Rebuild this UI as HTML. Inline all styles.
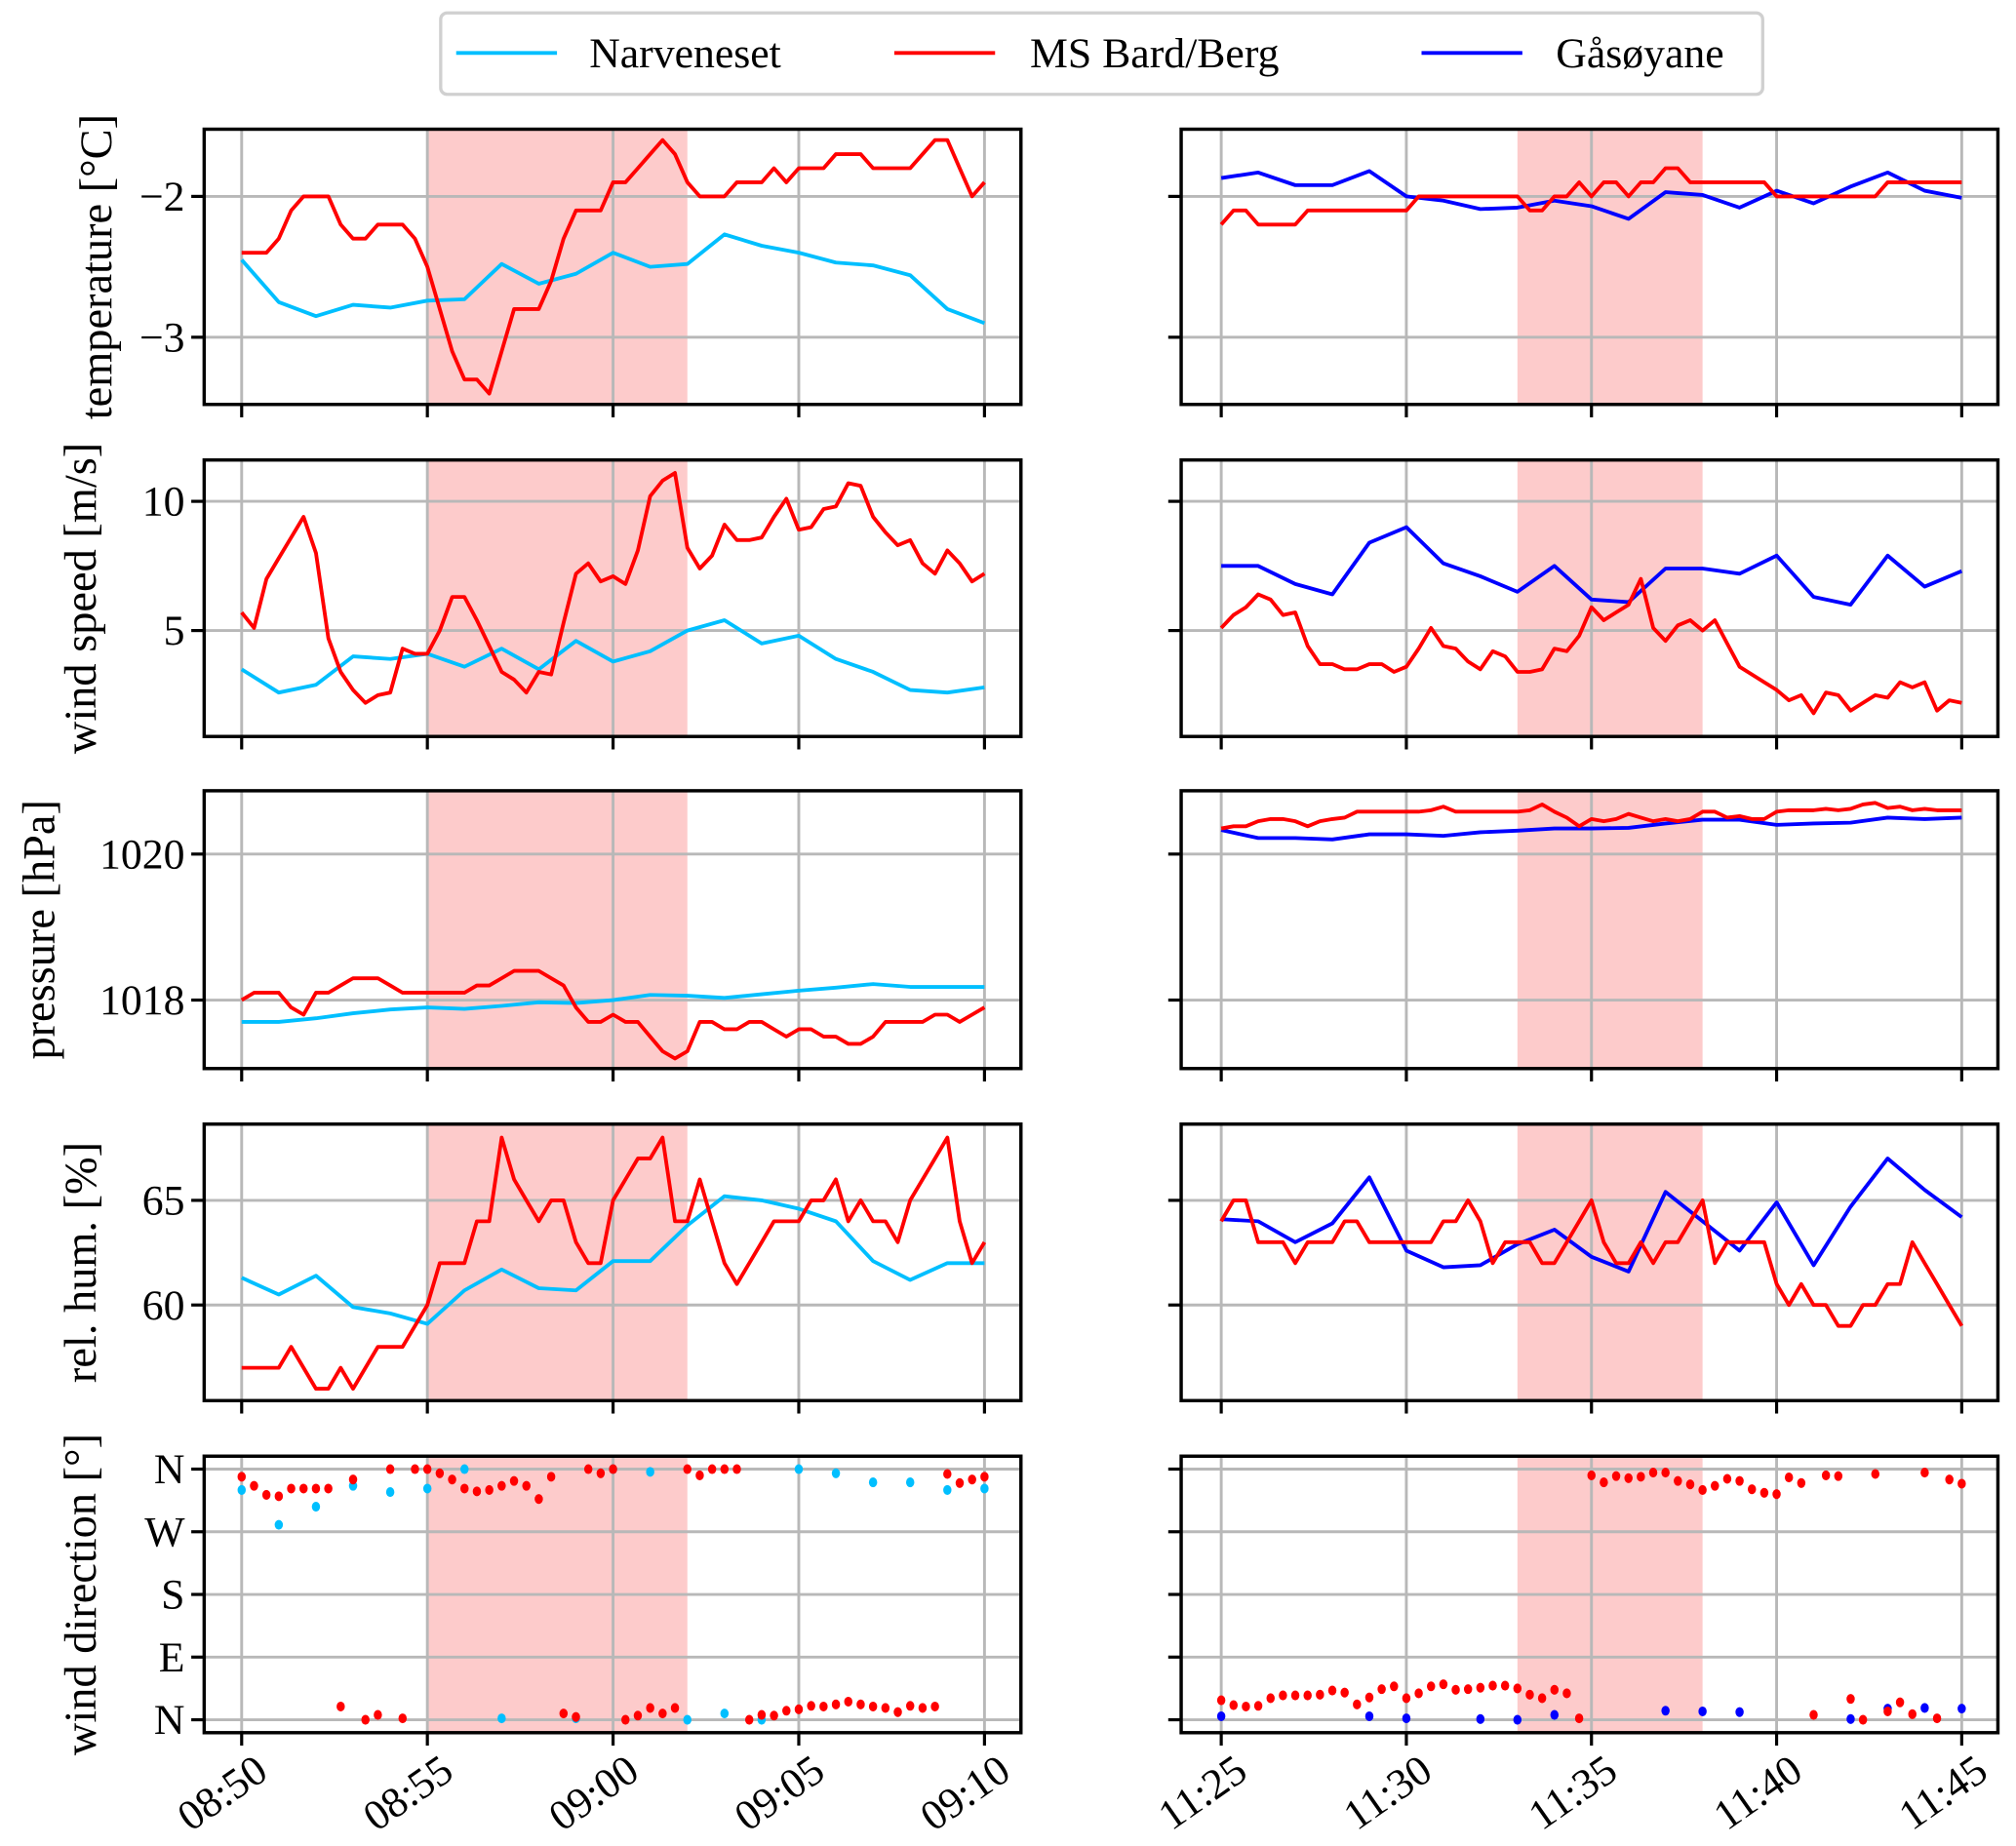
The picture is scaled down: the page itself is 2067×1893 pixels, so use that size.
<!DOCTYPE html>
<html><head><meta charset="utf-8">
<style>
html,body{margin:0;padding:0;background:#fff;}
svg{display:block;font-family:"Liberation Serif",serif;}
</style></head>
<body>
<svg id="chart" width="2067" height="1893" viewBox="0 0 1560 1428.7" preserveAspectRatio="none" xmlns="http://www.w3.org/2000/svg">
<g>
<rect x="341" y="10" width="1023" height="63" rx="5" fill="#fff" stroke="#d0d0d0" stroke-width="2.5"/>
<line x1="353" y1="41" x2="431" y2="41" stroke="#00bfff" stroke-width="3"/>
<text x="456" y="52" font-size="33">Narveneset</text>
<line x1="692" y1="41" x2="770" y2="41" stroke="#ff0000" stroke-width="3"/>
<text x="797" y="52" font-size="33">MS Bard/Berg</text>
<line x1="1100" y1="41" x2="1178" y2="41" stroke="#0000ff" stroke-width="3"/>
<text x="1204" y="52" font-size="33">Gåsøyane</text>
</g>
</svg>
<script>
// ---- data ----
const leftTicks = ["08:50","08:55","09:00","09:05","09:10"];
const rightTicks = ["11:25","11:30","11:35","11:40","11:45"];
const leftShade = [5, 12];
const rightShade = [8, 13];
const slowStep = 1;      // minutes between station samples
const fastStep = 1/3;    // minutes between ship samples

const tempNarv = [-2.45,-2.75,-2.85,-2.77,-2.79,-2.74,-2.73,-2.48,-2.62,-2.55,-2.40,-2.50,-2.48,-2.27,-2.35,-2.40,-2.47,-2.49,-2.56,-2.80,-2.90];
const tempShipL = [-2.4,-2.4,-2.4,-2.3,-2.1,-2.0,-2.0,-2.0,-2.2,-2.3,-2.3,-2.2,-2.2,-2.2,-2.3,-2.5,-2.8,-3.1,-3.3,-3.3,-3.4,-3.1,-2.8,-2.8,-2.8,-2.6,-2.3,-2.1,-2.1,-2.1,-1.9,-1.9,-1.8,-1.7,-1.6,-1.7,-1.9,-2.0,-2.0,-2.0,-1.9,-1.9,-1.9,-1.8,-1.9,-1.8,-1.8,-1.8,-1.7,-1.7,-1.7,-1.8,-1.8,-1.8,-1.8,-1.7,-1.6,-1.6,-1.8,-2.0,-1.9];
const tempGaso = [-1.87,-1.83,-1.92,-1.92,-1.82,-2.0,-2.03,-2.09,-2.08,-2.03,-2.07,-2.16,-1.97,-1.99,-2.08,-1.96,-2.05,-1.93,-1.83,-1.96,-2.01];
const tempShipR = [-2.2,-2.1,-2.1,-2.2,-2.2,-2.2,-2.2,-2.1,-2.1,-2.1,-2.1,-2.1,-2.1,-2.1,-2.1,-2.1,-2.0,-2.0,-2.0,-2.0,-2.0,-2.0,-2.0,-2.0,-2.0,-2.1,-2.1,-2.0,-2.0,-1.9,-2.0,-1.9,-1.9,-2.0,-1.9,-1.9,-1.8,-1.8,-1.9,-1.9,-1.9,-1.9,-1.9,-1.9,-1.9,-2.0,-2.0,-2.0,-2.0,-2.0,-2.0,-2.0,-2.0,-2.0,-1.9,-1.9,-1.9,-1.9,-1.9,-1.9,-1.9];

const windNarv = [3.5,2.6,2.9,4.0,3.9,4.1,3.6,4.3,3.5,4.6,3.8,4.2,5.0,5.4,4.5,4.8,3.9,3.4,2.7,2.6,2.8];
const windShipL = [5.7,5.1,7.0,7.8,8.6,9.4,8.0,4.7,3.4,2.7,2.2,2.5,2.6,4.3,4.1,4.1,5.0,6.3,6.3,5.4,4.4,3.4,3.1,2.6,3.4,3.3,5.3,7.2,7.6,6.9,7.1,6.8,8.1,10.2,10.8,11.1,8.2,7.4,7.9,9.1,8.5,8.5,8.6,9.4,10.1,8.9,9.0,9.7,9.8,10.7,10.6,9.4,8.8,8.3,8.5,7.6,7.2,8.1,7.6,6.9,7.2];
const windGaso = [7.5,7.5,6.8,6.4,8.4,9.0,7.6,7.1,6.5,7.5,6.2,6.1,7.4,7.4,7.2,7.9,6.3,6.0,7.9,6.7,7.3];
const windShipR = [5.1,5.6,5.9,6.4,6.2,5.6,5.7,4.4,3.7,3.7,3.5,3.5,3.7,3.7,3.4,3.6,4.3,5.1,4.4,4.3,3.8,3.5,4.2,4.0,3.4,3.4,3.5,4.3,4.2,4.8,5.9,5.4,5.7,6.0,7.0,5.1,4.6,5.2,5.4,5.0,5.4,4.5,3.6,3.3,3.0,2.7,2.3,2.5,1.8,2.6,2.5,1.9,2.2,2.5,2.4,3.0,2.8,3.0,1.9,2.3,2.2];

const presNarv = [1017.7,1017.7,1017.75,1017.82,1017.87,1017.9,1017.88,1017.92,1017.97,1017.96,1018.0,1018.07,1018.06,1018.03,1018.08,1018.13,1018.17,1018.22,1018.18,1018.18,1018.18];
const presShipL = [1018.0,1018.1,1018.1,1018.1,1017.9,1017.8,1018.1,1018.1,1018.2,1018.3,1018.3,1018.3,1018.2,1018.1,1018.1,1018.1,1018.1,1018.1,1018.1,1018.2,1018.2,1018.3,1018.4,1018.4,1018.4,1018.3,1018.2,1017.9,1017.7,1017.7,1017.8,1017.7,1017.7,1017.5,1017.3,1017.2,1017.3,1017.7,1017.7,1017.6,1017.6,1017.7,1017.7,1017.6,1017.5,1017.6,1017.6,1017.5,1017.5,1017.4,1017.4,1017.5,1017.7,1017.7,1017.7,1017.7,1017.8,1017.8,1017.7,1017.8,1017.9];
const presGaso = [1020.33,1020.22,1020.22,1020.2,1020.27,1020.27,1020.25,1020.3,1020.32,1020.35,1020.35,1020.36,1020.42,1020.47,1020.47,1020.4,1020.42,1020.43,1020.5,1020.48,1020.5];
const presShipR = [1020.35,1020.38,1020.38,1020.45,1020.48,1020.48,1020.45,1020.38,1020.45,1020.48,1020.5,1020.58,1020.58,1020.58,1020.58,1020.58,1020.58,1020.6,1020.65,1020.58,1020.58,1020.58,1020.58,1020.58,1020.58,1020.6,1020.68,1020.58,1020.5,1020.38,1020.48,1020.45,1020.48,1020.55,1020.5,1020.45,1020.48,1020.45,1020.48,1020.58,1020.58,1020.5,1020.52,1020.48,1020.48,1020.58,1020.6,1020.6,1020.6,1020.62,1020.6,1020.62,1020.68,1020.7,1020.63,1020.65,1020.6,1020.62,1020.6,1020.6,1020.6];

const humNarv = [61.3,60.5,61.4,59.9,59.6,59.1,60.7,61.7,60.8,60.7,62.1,62.1,63.8,65.2,65.0,64.6,64.0,62.1,61.2,62.0,62.0];
const humShipL = [57,57,57,57,58,57,56,56,57,56,57,58,58,58,59,60,62,62,62,64,64,68,66,65,64,65,65,63,62,62,65,66,67,67,68,64,64,66,64,62,61,62,63,64,64,64,65,65,66,64,65,64,64,63,65,66,67,68,64,62,63];
const humGaso = [64.1,64.0,63.0,63.9,66.1,62.6,61.8,61.9,62.9,63.6,62.3,61.6,65.4,64.0,62.6,64.9,61.9,64.7,67.0,65.5,64.2];
const humShipR = [64,65,65,63,63,63,62,63,63,63,64,64,63,63,63,63,63,63,64,64,65,64,62,63,63,63,62,62,63,64,65,63,62,62,63,62,63,63,64,65,62,63,63,63,63,61,60,61,60,60,59,59,60,60,61,61,63,62,61,60,59];

const dirNarv = [330,280,306,336,327,332,360,2,null,2,360,356,0,9,0,360,354,341,341,330,332];
const dirShipL = [349,336,323,321,332,332,332,332,19,345,0,7,360,2,360,360,354,345,332,328,330,336,343,336,317,349,9,4,360,354,360,0,6,17,9,17,360,351,360,360,360,0,7,6,13,15,20,19,22,26,22,19,17,11,20,17,19,353,340,345,349];
const dirGaso = [5,null,null,null,5,2,null,1,0,7,null,null,13,12,11,null,null,1,16,17,16];
const dirShipR = [28,21,19,20,31,35,35,35,36,42,39,22,32,44,48,31,38,48,51,43,44,46,49,49,45,36,31,43,38,2,351,341,350,347,349,355,355,343,338,330,336,346,343,331,326,324,348,340,7,351,350,30,0,353,12,25,8,355,2,345,339];

const tempTicks = [-2,-3], tempTickLabels = ["\u22122","\u22123"];
const windTicks = [5,10], windTickLabels = ["5","10"];
const presTicks = [1018,1020], presTickLabels = ["1018","1020"];
const humTicks = [60,65], humTickLabels = ["60","65"];
const dirTicks = [0,90,180,270,360], dirTickLabels = ["N","E","S","W","N"];

// ---- layout ----
const NS = "http://www.w3.org/2000/svg";
const svg = document.getElementById("chart");
const CYAN="#00bfff", RED="#ff0000", BLUE="#0000ff";
const cols = [
  {x0:158,x1:790,t0x:187,px:28.74,ticks:leftTicks,shade:leftShade,side:"left"},
  {x0:914,x1:1546,t0x:945,px:28.65,ticks:rightTicks,shade:rightShade,side:"right"}
];
const rows = [
  {key:"temperature",top:100,bot:313,v0:-2,y0:152,ppu:109,ticks:tempTicks,labels:tempTickLabels,title:"temperature [°C]",tx:78,
   series:[[tempNarv,null,tempShipL],[null,tempGaso,tempShipR]]},
  {key:"wind-speed",top:356,bot:570,v0:5,y0:488,ppu:20,ticks:windTicks,labels:windTickLabels,title:"wind speed [m/s]",tx:66,
   series:[[windNarv,null,windShipL],[null,windGaso,windShipR]]},
  {key:"pressure",top:612,bot:827,v0:1018,y0:774,ppu:56.5,ticks:presTicks,labels:presTickLabels,title:"pressure [hPa]",tx:34,
   series:[[presNarv,null,presShipL],[null,presGaso,presShipR]]},
  {key:"rel-humidity",top:870,bot:1084,v0:65,y0:929,ppu:16.2,ticks:humTicks,labels:humTickLabels,title:"rel. hum. [%]",tx:66,
   series:[[humNarv,null,humShipL],[null,humGaso,humShipR]]},
  {key:"wind-direction",top:1127,bot:1341,v0:0,y0:1331,ppu:48.5/90,ticks:dirTicks,labels:dirTickLabels,title:"wind direction [°]",tx:66,scatter:true,
   series:[[dirNarv,null,dirShipL],[null,dirGaso,dirShipR]]}
];
function el(tag, attrs, parent){const e=document.createElementNS(NS,tag);for(const k in attrs)e.setAttribute(k,attrs[k]);(parent||svg).appendChild(e);return e;}

rows.forEach((r,ri)=>{
  const yS = v => r.y0 - (v - r.v0)*r.ppu;
  const tt = el("text",{x:r.tx,y:(r.top+r.bot)/2,"font-size":35,"text-anchor":"middle",transform:`rotate(-90 ${r.tx} ${(r.top+r.bot)/2})`,"dominant-baseline":"middle"});
  tt.textContent = r.title;
  
  
  cols.forEach((c,ci)=>{
    const xS = t => c.t0x + t*c.px;
    const g = el("g",{});
    
    
    const clipId = `clip${ri}${ci}`;
    const cp = el("clipPath",{id:clipId},g);
    el("rect",{x:c.x0,y:r.top,width:c.x1-c.x0,height:r.bot-r.top},cp);
    const sh = el("rect",{x:xS(c.shade[0]),y:r.top,width:xS(c.shade[1])-xS(c.shade[0]),height:r.bot-r.top,fill:"#fdcbcb"},g);
    
    
    c.ticks.forEach((lab,i)=>{
      const x = xS(i*5);
      el("line",{x1:x,y1:r.top,x2:x,y2:r.bot,stroke:"#b8b8b8","stroke-width":2.2},g);
      el("line",{x1:x,y1:r.bot,x2:x,y2:r.bot+10,stroke:"#000","stroke-width":2.4},g);
      if(ri===rows.length-1){
        const tl = el("text",{x:x+22,y:r.bot+34,"font-size":33,"text-anchor":"end",transform:`rotate(-35 ${x+22} ${r.bot+34})`});
        tl.textContent = lab;
        
        
      }
    });
    r.ticks.forEach((v,i)=>{
      const y = yS(v);
      el("line",{x1:c.x0,y1:y,x2:c.x1,y2:y,stroke:"#b8b8b8","stroke-width":2.2},g);
      el("line",{x1:c.x0-10,y1:y,x2:c.x0,y2:y,stroke:"#000","stroke-width":2.4},g);
      if(ci===0){
        const yl = el("text",{x:c.x0-15,y:y+11,"font-size":33,"text-anchor":"end"});
        yl.textContent = r.labels[i];
        
        
      }
    });
    const colors=[CYAN,BLUE,RED], names=["narveneset","gasoyane","ms-bard-berg"];
    r.series[ci].forEach((arr,si)=>{
      if(!arr) return;
      const step = si===2 ? fastStep : slowStep;
      if(r.scatter){
        arr.forEach((v,i)=>{
          if(v===null) return;
          const d = el("ellipse",{cx:xS(i*step),cy:yS(v),rx:3.2,ry:3.8,fill:colors[si],"clip-path":`url(#${clipId})`},g);
          
          
        });
      } else {
        const pts = arr.map((v,i)=>`${xS(i*step).toFixed(1)},${yS(v).toFixed(1)}`).join(" ");
        const pl = el("polyline",{points:pts,fill:"none",stroke:colors[si],"stroke-width":2.9,"stroke-linejoin":"round","clip-path":`url(#${clipId})`},g);
        
        
      }
    });
    const fr = el("rect",{x:c.x0,y:r.top,width:c.x1-c.x0,height:r.bot-r.top,fill:"none",stroke:"#000","stroke-width":2.6},g);
    
    
  });
});
</script>
</body></html>
